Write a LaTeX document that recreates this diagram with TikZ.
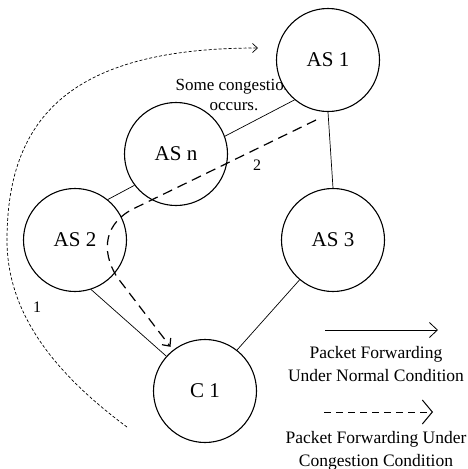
\documentclass[tikz,border=0pt]{standalone}
\usepackage{fontspec}
\setmainfont{Liberation Serif}
\usetikzlibrary{arrows.meta}

\tikzstyle{as_node} = [circle, minimum size=103pt, inner sep=0pt, draw=black, fill=white, line width=1.1pt, font=\fontsize{21}{25}\selectfont]
\tikzstyle{link} = [line width=0.7pt]
\tikzstyle{congested} = [line width=1.2pt, dash pattern=on 10pt off 6pt, -{Straight Barb[length=6pt,width=11pt]}]
\tikzstyle{reroute} = [line width=0.7pt, dash pattern=on 3pt off 2pt, -{Straight Barb[length=5pt,width=9pt]}]
\tikzstyle{legend_text} = [align=center, font=\fontsize{17.5}{22.5}\selectfont]
\tikzstyle{hop} = [font=\fontsize{16}{19}\selectfont]

\begin{document}
\begin{tikzpicture}[x=1pt, y=-1pt]

    \useasboundingbox (0,0) rectangle (468,469);

    % Note under AS 1 (the circle covers its end)
    \node (note) [align=center, font=\fontsize{17}{20}\selectfont] at (234,95) {Some congestion\\occurs.};

    % Nodes
    \node (as1) [as_node] at (328,60) {AS 1};
    \node (asn) [as_node] at (176,154) {AS n};
    \node (as2) [as_node] at (75,240) {AS 2};
    \node (as3) [as_node] at (333,240) {AS 3};
    \node (c1) [as_node] at (205,391) {C 1};

    % Links
    \draw [link] (as1.230) -- (asn.20);
    \draw [link] (asn.217) -- (as2.51);
    \draw [link] (as2.288) -- (c1.138);
    \draw [link] (as1.south) -- (as3.north);
    \draw [link] (as3.230) -- (c1.52);

    % Path taken under congestion
    \coordinate (jam) at (316,120);
    \draw [congested, shorten >=4pt] (jam) -- (135,208) .. controls (105,222) and (100,250) .. (117,277) -- (c1.128);
    \node (hop2) [hop] at (257,165) {2};

    % Way back round to AS 1
    \coordinate (loop_start) at (127,427);
    \coordinate (loop_end) at (258,48);
    \draw [reroute] (loop_start) .. controls (50,370) and (7,310) .. (7,240) .. controls (7,110) and (80,48) .. (loop_end);
    \node (hop1) [hop] at (37,307) {1};

    % Legend
    \coordinate (normal_a) at (325,330);
    \coordinate (normal_b) at (438,330);
    \draw [line width=0.8pt, -{Straight Barb[length=8pt,width=15pt]}] (normal_a) -- (normal_b);
    \node (normal_text) [legend_text] at (376,364) {Packet Forwarding\\Under Normal Condition};

    \coordinate (jam_a) at (324,412);
    \coordinate (jam_b) at (433,412);
    \draw [line width=1pt, dash pattern=on 7pt off 5pt, -{Straight Barb[length=10pt,width=24pt]}] (jam_a) -- (jam_b);
    \node (jam_text) [legend_text] at (376,451) {Packet Forwarding Under\\Congestion Condition};

\end{tikzpicture}
\end{document}
